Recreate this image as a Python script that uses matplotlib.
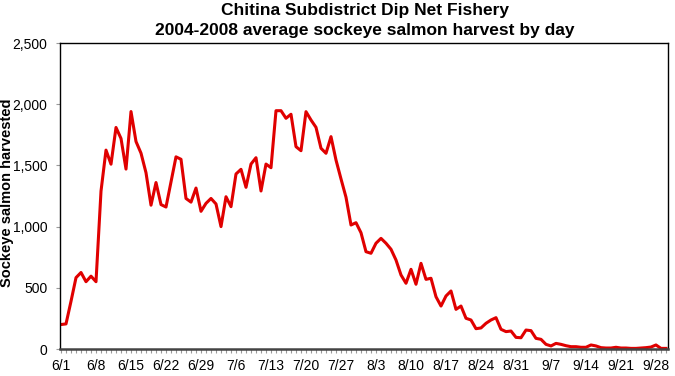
import numpy as np
import matplotlib.pyplot as plt

plt.rcParams['font.family'] = ['Liberation Sans', 'DejaVu Sans']

# daily harvest, 6/1 through 9/30
harvest = [
    200, 205, 390, 583, 625, 550, 595, 550, 1290, 1625,
    1510, 1810, 1720, 1470, 1940, 1695, 1600, 1440, 1175, 1360,
    1180, 1160, 1365, 1570, 1550, 1230, 1200, 1315, 1125, 1190,
    1230, 1185, 1000, 1244, 1163, 1430, 1468, 1321, 1511, 1563,
    1291, 1511, 1481, 1947, 1947, 1885, 1918, 1653, 1620, 1939,
    1871, 1811, 1640, 1599, 1735, 1544, 1390, 1240, 1013, 1032,
    950, 795, 782, 864, 904, 864, 815, 727, 605, 537,
    651, 529, 700, 569, 578, 427, 351, 433, 474, 324,
    351, 251, 237, 166, 172, 210, 237, 256, 161, 142,
    147, 95, 92, 155, 150, 87, 79, 38, 25, 46,
    38, 27, 19, 19, 14, 14, 33, 25, 11, 8,
    8, 14, 8, 8, 5, 5, 8, 11, 16, 33,
    5, 5,
]
tick_labels = ['6/1', '6/8', '6/15', '6/22', '6/29', '7/6', '7/13', '7/20',
               '7/27', '8/3', '8/10', '8/17', '8/24', '8/31', '9/7', '9/14',
               '9/21', '9/28']

days = np.arange(len(harvest))

fig = plt.figure(figsize=(6.75, 3.76), dpi=100)
ax = fig.add_axes([0.0889, 0.0718, 0.9007, 0.8138])

ax.plot(days, harvest, color='#e00000', lw=2.2, solid_joinstyle='round')

ax.set_xlim(-0.2, 121.4)
ax.set_ylim(0, 2500)

ax.set_xticks(days)
ax.set_xticklabels([tick_labels[d // 7] if d % 7 == 0 else '' for d in days],
                   fontsize=10)
ax.tick_params(axis='x', length=3, width=0.8, color='#999999', pad=4)

ax.set_yticks(np.arange(0, 2501, 500))
ax.set_yticklabels(['0', '500', '1,000', '1,500', '2,000', '2,500'], fontsize=10)
ax.tick_params(axis='y', length=3, width=0.8, color='#999999', pad=6)

for s in ['top', 'right', 'left']:
    ax.spines[s].set_color('black')
    ax.spines[s].set_linewidth(1.0)
ax.spines['bottom'].set_color('#444444')
ax.spines['bottom'].set_linewidth(1.8)

ax.set_ylabel('Sockeye salmon harvested', fontsize=10.5, fontweight='bold')
ax.yaxis.set_label_coords(-0.075, 0.51)

fig.text(0.541, 1 - 10 / 376, 'Chitina Subdistrict Dip Net Fishery',
         ha='center', va='center', fontsize=12.5, fontweight='bold')
fig.text(0.541, 1 - 31 / 376, '2004-2008 average sockeye salmon harvest by day',
         ha='center', va='center', fontsize=12.5, fontweight='bold')

fig.savefig('out.png', dpi=100)
